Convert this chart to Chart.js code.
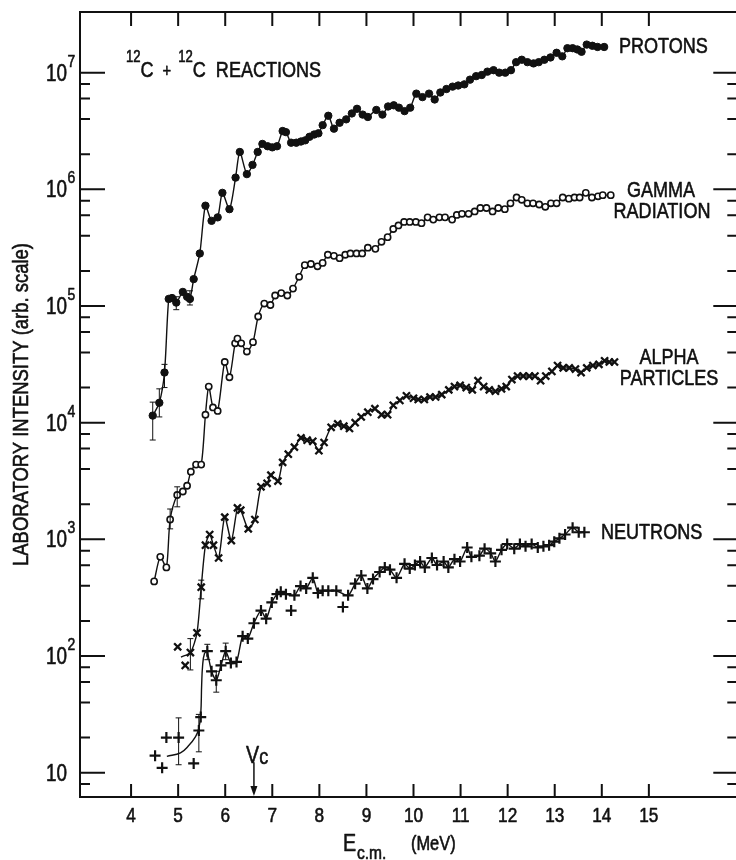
<!DOCTYPE html>
<html>
<head>
<meta charset="utf-8">
<script src="https://cdn.jsdelivr.net/npm/chart.js@4.4.0/dist/chart.umd.min.js"></script>
<style>
  html, body { margin: 0; padding: 0; background: #fff; overflow: hidden; }
  #wrap { width: 746px; height: 860px; }
</style>
</head>
<body>
<div id="wrap"><canvas id="myChart" width="746" height="860"></canvas></div>
<script>
/* 12C + 12C reaction yields vs centre-of-mass energy
   values (log axis) */

const protonE = [4.46, 4.60, 4.71, 4.80, 4.87, 4.96, 5.10, 5.19, 5.25, 5.33, 5.46, 5.58, 5.71, 5.84, 5.94, 6.09,
    6.22, 6.31, 6.46, 6.58, 6.69, 6.79, 6.90, 7.00, 7.10, 7.22, 7.29, 7.40, 7.51, 7.61, 7.70, 7.79, 7.89, 7.98,
    8.07, 8.19, 8.31, 8.43, 8.57, 8.69, 8.80, 8.92, 9.03, 9.21, 9.34, 9.46, 9.58, 9.69, 9.81, 9.93, 10.06, 10.19,
    10.33, 10.45, 10.57, 10.70, 10.83, 10.95, 11.08, 11.20, 11.33, 11.45, 11.57, 11.70, 11.82, 11.95, 12.07,
    12.18, 12.30, 12.42, 12.55, 12.66, 12.78, 12.91, 13.04, 13.16, 13.27, 13.38, 13.48, 13.57, 13.68, 13.80,
    13.91, 14.05];
const protonI = [1.15e4, 1.48e4, 2.69e4, 1.15e5, 1.17e5, 1.07e5, 1.32e5, 1.20e5, 1.15e5, 1.70e5, 2.82e5, 7.24e5,
    5.37e5, 5.75e5, 9.33e5, 6.76e5, 1.26e6, 2.09e6, 1.35e6, 1.62e6, 2.09e6, 2.45e6, 2.34e6, 2.29e6, 2.34e6, 3.16e6,
    3.09e6, 2.51e6, 2.51e6, 2.57e6, 2.63e6, 2.82e6, 2.95e6, 3.02e6, 3.55e6, 4.27e6, 3.31e6, 3.72e6, 3.98e6, 4.47e6,
    4.90e6, 4.37e6, 4.17e6, 4.79e6, 4.37e6, 5.13e6, 5.25e6, 5.01e6, 4.68e6, 5.01e6, 6.61e6, 6.17e6, 6.61e6, 5.89e6,
    6.76e6, 7.24e6, 7.59e6, 7.76e6, 7.94e6, 8.71e6, 9.33e6, 9.55e6, 1.02e7, 1.05e7, 1.00e7, 1.00e7, 1.05e7, 1.23e7,
    1.29e7, 1.23e7, 1.20e7, 1.23e7, 1.29e7, 1.35e7, 1.48e7, 1.38e7, 1.62e7, 1.62e7, 1.58e7, 1.51e7, 1.74e7, 1.70e7,
    1.66e7, 1.66e7];

const gammaE = [4.49, 4.62, 4.75, 4.83, 4.98, 5.10, 5.19, 5.27, 5.38, 5.49, 5.58, 5.65, 5.74, 5.84, 5.99, 6.09,
    6.21, 6.26, 6.34, 6.46, 6.59, 6.70, 6.83, 6.96, 7.06, 7.19, 7.32, 7.44, 7.57, 7.69, 7.82, 7.96, 8.07, 8.18,
    8.31, 8.43, 8.55, 8.66, 8.79, 8.91, 9.03, 9.19, 9.32, 9.45, 9.57, 9.68, 9.80, 9.92, 10.05, 10.17, 10.30, 10.42,
    10.55, 10.67, 10.82, 10.92, 11.03, 11.17, 11.30, 11.42, 11.55, 11.68, 11.80, 11.94, 12.06, 12.19, 12.30,
    12.42, 12.54, 12.67, 12.80, 12.92, 13.04, 13.17, 13.30, 13.42, 13.53, 13.66, 13.79, 13.92, 14.02, 14.19];
const gammaI = [436, 708, 575, 1480, 2400, 2570, 2880, 3800, 4370, 4370, 1.17e4, 2.04e4, 1.35e4, 1.26e4, 3.31e4,
    2.45e4, 4.79e4, 5.25e4, 4.79e4, 4.07e4, 4.90e4, 8.13e4, 1.05e5, 1.02e5, 1.23e5, 1.29e5, 1.23e5, 1.41e5, 1.78e5,
    2.24e5, 2.29e5, 2.19e5, 2.34e5, 2.75e5, 2.69e5, 2.57e5, 2.75e5, 2.82e5, 2.82e5, 2.82e5, 3.16e5, 3.09e5, 3.55e5,
    3.89e5, 4.57e5, 4.90e5, 5.25e5, 5.25e5, 5.25e5, 5.13e5, 5.75e5, 5.50e5, 5.75e5, 5.75e5, 5.50e5, 6.03e5, 6.17e5,
    6.17e5, 6.46e5, 6.92e5, 6.92e5, 6.46e5, 6.92e5, 6.76e5, 7.59e5, 8.51e5, 8.13e5, 7.59e5, 7.59e5, 7.41e5, 7.08e5,
    7.59e5, 7.59e5, 8.51e5, 8.32e5, 8.51e5, 8.51e5, 9.33e5, 8.51e5, 8.71e5, 8.91e5, 8.91e5];

// first alpha point is where the drawn curve starts (no marker there)
const alphaE = [5.06, 5.26, 5.40, 5.49, 5.58, 5.67, 5.75, 5.86, 5.99, 6.13, 6.26, 6.33, 6.49, 6.63, 6.76, 6.89,
    6.97, 7.12, 7.22, 7.34, 7.47, 7.61, 7.74, 7.86, 7.99, 8.10, 8.25, 8.39, 8.52, 8.64, 8.76, 8.89, 9.03, 9.18,
    9.32, 9.45, 9.57, 9.71, 9.85, 10.00, 10.10, 10.23, 10.35, 10.47, 10.60, 10.75, 10.87, 10.99, 11.12, 11.25,
    11.37, 11.49, 11.61, 11.74, 11.87, 11.97, 12.09, 12.21, 12.33, 12.46, 12.58, 12.70, 12.81, 12.94, 13.06,
    13.18, 13.31, 13.44, 13.56, 13.68, 13.81, 13.94, 14.06, 14.16, 14.27];
const alphaI = [98, 107, 158, 389, 891, 1100, 891, 692, 1550, 977, 1860, 1780, 1230, 1480, 2820, 3020, 3550, 3160,
    4570, 5370, 6170, 7410, 7080, 6920, 5750, 6760, 9120, 9770, 9330, 8910, 1.00e4, 1.12e4, 1.23e4, 1.32e4, 1.17e4,
    1.17e4, 1.41e4, 1.55e4, 1.70e4, 1.62e4, 1.58e4, 1.58e4, 1.66e4, 1.66e4, 1.74e4, 1.91e4, 2.04e4, 2.09e4, 2.00e4,
    1.91e4, 2.29e4, 2.04e4, 1.91e4, 1.86e4, 1.95e4, 2.04e4, 2.34e4, 2.51e4, 2.51e4, 2.51e4, 2.51e4, 2.29e4, 2.51e4,
    2.75e4, 3.09e4, 2.95e4, 2.95e4, 2.88e4, 2.69e4, 2.95e4, 3.09e4, 3.16e4, 3.39e4, 3.31e4, 3.31e4];
const alphaLoneE = [4.99, 5.15];
const alphaLoneI = [120, 83];

const neutronE = [5.62, 5.71, 5.81, 5.91, 6.01, 6.12, 6.24, 6.37, 6.48, 6.61, 6.76, 6.87, 6.99, 7.10, 7.18, 7.29,
    7.47, 7.60, 7.72, 7.86, 7.97, 8.07, 8.19, 8.36, 8.61, 8.76, 8.89, 9.02, 9.14, 9.28, 9.39, 9.50, 9.64, 9.81,
    9.92, 10.03, 10.14, 10.24, 10.39, 10.50, 10.64, 10.74, 10.87, 10.99, 11.14, 11.23, 11.40, 11.51, 11.64,
    11.74, 11.87, 11.99, 12.14, 12.26, 12.38, 12.51, 12.64, 12.76, 12.88, 12.99, 13.10, 13.22, 13.38, 13.51, 13.63];
const neutronI = [110, 74, 62, 83, 110, 87, 89, 148, 141, 191, 245, 209, 288, 339, 355, 339, 331, 398, 380, 468,
    347, 363, 363, 363, 331, 417, 490, 380, 457, 525, 575, 550, 468, 617, 562, 603, 646, 575, 692, 603, 646, 575,
    676, 646, 851, 708, 724, 832, 759, 646, 813, 912, 832, 912, 871, 912, 851, 871, 891, 955, 1020, 1100, 1260,
    1150, 1150];
const neutronLoneE = [4.51, 4.66, 4.75, 5.01, 5.33, 5.44, 5.48, 7.40, 8.50];
const neutronLoneI = [14, 11, 20, 20, 12, 23, 30, 245, 263];
// hand-drawn curve through the low-energy neutron points
const neutronFitE = [4.76, 5.05, 5.22, 5.37, 5.44, 5.48, 5.50, 5.52, 5.56, 5.62];
const neutronFitI = [13.8, 14.8, 17, 20.4, 24, 31.6, 57.5, 83, 105, 110];

// error bars: energy, lower, upper
const errE = [4.46, 4.60, 4.71, 4.96, 5.25, 4.83, 4.98, 5.26, 5.49, 5.01, 5.44, 5.62, 5.81, 6.01];
const errLo = [7100, 1.12e4, 2.0e4, 9.3e4, 1.02e5, 1230, 1900, 76, 309, 11.7, 15.1, 93, 49, 93];
const errHi = [1.5e4, 1.95e4, 3.16e4, 1.2e5, 1.35e5, 1820, 2820, 141, 447, 29.5, 31.6, 126, 74, 129];

// Coulomb barrier arrow
const vcE = 6.61;
const vcTop = 12.3;

const xTickVals = [4, 5, 6, 7, 8, 9, 10, 11, 12, 13, 14, 15];
const yDecades = [10, 100, 1e3, 1e4, 1e5, 1e6, 1e7];
const yExponents = ["", "2", "3", "4", "5", "6", "7"];
const yMinorMult = [2, 4, 6, 8];

// Helvetica-condensed look: Liberation Sans squeezed sideways
const FONT = '"Liberation Sans", Arial, sans-serif';
const SQUEEZE = 0.82;
const ink = "#111";

function pts(xs, ys) {
    return xs.map((x, i) => ({ x: x, y: ys[i] }));
}

function txt(ctx, s, x, y, size, align) {
    ctx.save();
    ctx.translate(x, y);
    ctx.scale(SQUEEZE, 1);
    ctx.font = size + "px " + FONT;
    ctx.textAlign = align || "left";
    ctx.textBaseline = "alphabetic";
    ctx.lineWidth = 0.6;
    ctx.lineJoin = "round";
    ctx.fillText(s, 0, 0);
    ctx.strokeText(s, 0, 0);
    const w = ctx.measureText(s).width * SQUEEZE;
    ctx.restore();
    return w;
}

// a run of pieces {t, size, dy, gap} left to right
function runText(ctx, pieces, x, y) {
    pieces.forEach(p => {
        x += txt(ctx, p.t, x, y + (p.dy || 0), p.size) + (p.gap || 0);
    });
}

const frame = {
    id: "frame",
    afterDatasetsDraw(chart) {
        const ctx = chart.ctx;
        const xs = chart.scales.x;
        const ys = chart.scales.y;
        const a = chart.chartArea;
        ctx.save();
        ctx.strokeStyle = ink;
        ctx.fillStyle = ink;

        // error bars
        ctx.lineWidth = 1;
        errE.forEach((e, i) => {
            const px = xs.getPixelForValue(e);
            const lo = ys.getPixelForValue(errLo[i]);
            const hi = ys.getPixelForValue(errHi[i]);
            ctx.beginPath();
            ctx.moveTo(px, lo); ctx.lineTo(px, hi);
            ctx.moveTo(px - 3, lo); ctx.lineTo(px + 3, lo);
            ctx.moveTo(px - 3, hi); ctx.lineTo(px + 3, hi);
            ctx.stroke();
        });

        // box
        ctx.lineWidth = 2;
        ctx.strokeRect(a.left, a.top, a.right - a.left, a.bottom - a.top);

        // x ticks, top and bottom, pointing in
        ctx.beginPath();
        xTickVals.forEach(v => {
            const px = xs.getPixelForValue(v);
            ctx.moveTo(px, a.top); ctx.lineTo(px, a.top + 14);
            ctx.moveTo(px, a.bottom); ctx.lineTo(px, a.bottom - 13);
        });
        ctx.stroke();
        // x tick labels under the axis
        xTickVals.forEach(v => {
            txt(ctx, String(v), xs.getPixelForValue(v), a.bottom + 25, 21, "center");
        });

        // y ticks both sides
        ctx.lineWidth = 2;
        ctx.beginPath();
        yDecades.forEach(d => {
            const py = ys.getPixelForValue(d);
            ctx.moveTo(a.left, py); ctx.lineTo(a.left + 25, py);
            ctx.moveTo(a.right, py); ctx.lineTo(a.right - 25, py);
            yMinorMult.forEach(m => {
                const v = d / 10 * m;
                if (v < ys.min || v > 1e7) return;
                const q = ys.getPixelForValue(v);
                ctx.moveTo(a.left, q); ctx.lineTo(a.left + 10, q);
                ctx.moveTo(a.right, q); ctx.lineTo(a.right - 11, q);
            });
        });
        ctx.stroke();

        // y tick labels 10^n
        yDecades.forEach((d, i) => {
            const py = ys.getPixelForValue(d);
            txt(ctx, "10", 67, py + 8, 23, "right");
            if (yExponents[i]) txt(ctx, yExponents[i], 67.5, py - 6, 17);
        });

        // axis titles
        ctx.save();
        ctx.translate(28, (a.top + a.bottom) / 2);
        ctx.rotate(-Math.PI / 2);
        txt(ctx, "LABORATORY INTENSITY (arb. scale)", 0, 0, 22.5, "center");
        ctx.restore();

        txt(ctx, "E", 343, 851, 24);
        txt(ctx, "c.m.", 357, 859, 19);
        txt(ctx, "(MeV)", 411, 850, 20);

        // plot title
        runText(ctx, [
            { t: "12", size: 16, dy: -15 },
            { t: "C", size: 22, gap: 9 },
            { t: "+", size: 18, gap: 7 },
            { t: "12", size: 16, dy: -15 },
            { t: "C", size: 22, gap: 10 },
            { t: "REACTIONS", size: 22 }
        ], 126, 77);

        // series names
        txt(ctx, "PROTONS", 619, 53, 22);
        txt(ctx, "NEUTRONS", 601, 539, 22);
        txt(ctx, "GAMMA", 661, 197, 22, "center");
        txt(ctx, "RADIATION", 662, 218, 22, "center");
        txt(ctx, "ALPHA", 669, 364, 22, "center");
        txt(ctx, "PARTICLES", 669, 385, 22, "center");

        // Vc arrow
        const vx = xs.getPixelForValue(vcE);
        const vy = ys.getPixelForValue(vcTop);
        ctx.lineWidth = 1.5;
        ctx.beginPath();
        ctx.moveTo(vx, vy); ctx.lineTo(vx, a.bottom - 8);
        ctx.stroke();
        ctx.beginPath();
        ctx.moveTo(vx - 3.5, a.bottom - 11);
        ctx.lineTo(vx + 3.5, a.bottom - 11);
        ctx.lineTo(vx, a.bottom - 1);
        ctx.closePath();
        ctx.fill();
        runText(ctx, [{ t: "V", size: 24 }, { t: "c", size: 22, dy: 1 }], 246, 763);

        ctx.restore();
    }
};

const ctx = document.getElementById("myChart").getContext("2d");

const chart = new Chart(ctx, {
    type: "line",
    data: {
        datasets: [{
            label: "Protons",
            data: pts(protonE, protonI),
            borderColor: ink,
            borderWidth: 1.4,
            pointStyle: "circle",
            pointRadius: 3.7,
            pointBackgroundColor: ink,
            pointBorderColor: ink,
            pointBorderWidth: 1,
            tension: 0.25
        }, {
            label: "Gamma radiation",
            data: pts(gammaE, gammaI),
            borderColor: ink,
            borderWidth: 1.4,
            pointStyle: "circle",
            pointRadius: 3.1,
            pointBackgroundColor: "#fff",
            pointBorderColor: ink,
            pointBorderWidth: 1.6,
            tension: 0.25
        }, {
            label: "Alpha particles",
            data: pts(alphaE, alphaI),
            borderColor: ink,
            borderWidth: 1.4,
            pointStyle: "crossRot",
            pointRadius: c => (c.dataIndex === 0 ? 0 : 5),
            pointBorderColor: ink,
            pointBorderWidth: 2.3,
            tension: 0.25
        }, {
            label: "Alpha (off curve)",
            data: pts(alphaLoneE, alphaLoneI),
            showLine: false,
            pointStyle: "crossRot",
            pointRadius: 5,
            pointBorderColor: ink,
            pointBorderWidth: 2.3
        }, {
            label: "Neutrons",
            data: pts(neutronE, neutronI),
            borderColor: ink,
            borderWidth: 1.4,
            pointStyle: "cross",
            pointRadius: 5.5,
            pointBorderColor: ink,
            pointBorderWidth: 2.2,
            tension: 0.25
        }, {
            label: "Neutron curve",
            data: pts(neutronFitE, neutronFitI),
            borderColor: ink,
            borderWidth: 1.4,
            pointRadius: 0,
            tension: 0.4
        }, {
            label: "Neutrons (off curve)",
            data: pts(neutronLoneE, neutronLoneI),
            showLine: false,
            pointStyle: "cross",
            pointRadius: 5.5,
            pointBorderColor: ink,
            pointBorderWidth: 2.2
        }]
    },
    options: {
        responsive: false,
        animation: false,
        devicePixelRatio: 1,
        layout: { padding: { top: 12, right: 4, bottom: 23, left: 0 } },
        plugins: {
            legend: { display: false },
            tooltip: { enabled: false }
        },
        scales: {
            x: {
                type: "linear",
                min: 2.915,
                max: 16.9,
                grid: { display: false },
                border: { display: false },
                ticks: { display: false },
                afterFit: s => { s.height = 40; }
            },
            y: {
                type: "logarithmic",
                min: 6.19,
                max: 3.31e7,
                grid: { display: false },
                border: { display: false },
                ticks: { display: false },
                afterFit: s => { s.width = 80; }
            }
        }
    },
    plugins: [frame]
});
</script>
</body>
</html>
